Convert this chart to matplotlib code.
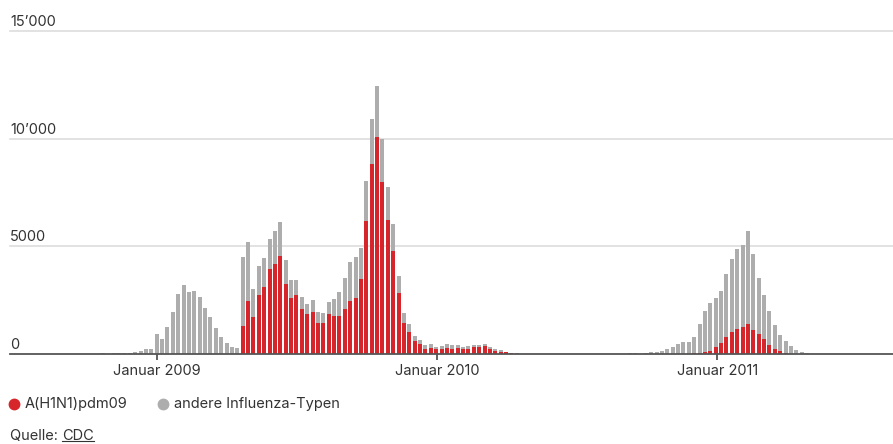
import matplotlib
matplotlib.use("Agg")
import matplotlib.pyplot as plt
from matplotlib.lines import Line2D
import pandas as pd
import numpy as np

plt.rcParams['font.family'] = ['Inter', 'DejaVu Sans']

# ---- data (weekly counts, first week centred on 2008-10-23) ----
first_week = "2008-10-23"
h1n1 = [
    0, 0, 0, 0, 0, 0, 0, 0, 0, 0,
    0, 0, 0, 0, 0, 0, 0, 0, 0, 0, 0, 0, 0, 0, 0, 0,
    1318, 2449, 1736, 2744, 3131, 3953, 4170, 4573, 3255, 2604,
    2728, 2108, 1876, 1969, 1442, 1442, 1876, 1752, 1783, 2108,
    2449, 2604, 3465, 6185, 8835, 10075, 7967, 6200, 4790, 2821,
    1434, 1031, 589, 472, 240, 295, 233, 233, 295, 248,
    295, 217, 248, 326, 326, 357, 217, 155, 109, 78,
    47, 0,
    0, 0, 0, 0, 0, 0, 0, 0, 0, 0, 0, 0, 0, 0, 0, 0, 0, 0, 0, 0,
    0, 0, 0, 0, 0, 0, 0, 0, 0, 0, 0, 0,
    31, 47, 93, 155, 310, 527, 806, 1023, 1178, 1256,
    1411, 1116, 930, 698, 434, 233, 124, 47,
    0, 0, 0, 0,
]
andere = [
    31, 0, 31, 31, 31, 31, 93, 155, 248, 248,
    930, 713, 1240, 1938, 2790, 3193, 2883, 2914, 2635, 2124, 1736, 1194, 775, 496, 310, 279,
    3177, 2744, 1271, 1364, 1349, 1379, 1534, 1534, 1101, 837,
    698, 543, 449, 542, 527, 465, 527, 790, 1100, 1426,
    1829, 1907, 1449, 1844, 2077, 2356, 2031, 1535, 1240, 791,
    457, 349, 248, 179, 179, 155, 93, 139, 155, 171,
    124, 124, 140, 108, 108, 123, 124, 93, 77, 31,
    15, 47,
    0, 0, 0, 0, 0, 0, 0, 0, 0, 0, 0, 0, 0, 0, 0, 0, 0, 0, 0, 0,
    31, 31, 0, 31, 93, 93, 124, 217, 326, 465, 558, 558,
    775, 1348, 1922, 2201, 2294, 2418, 2899, 3395, 3705, 3797,
    4293, 3534, 2604, 2061, 1550, 1116, 744, 542,
    372, 186, 93, 47,
]
y_ticks = [0, 5000, 10000, 15000]
y_labels = ["0", "5000", "10\u2019000", "15\u2019000"]
x_ticks = ["2009-01-01", "2010-01-01", "2011-01-01"]
x_labels = ["Januar 2009", "Januar 2010", "Januar 2011"]
series_names = ["A(H1N1)pdm09", "andere Influenza-Typen"]

RED = "#d7262b"
GRAY = "#adadad"
TEXT = "#333333"

weeks = pd.date_range(first_week, periods=len(h1n1), freq="7D")
h1n1 = np.array(h1n1, dtype=float)
andere = np.array(andere, dtype=float)

W, H = 893, 444
fig = plt.figure(figsize=(W / 100, H / 100), dpi=100)
ax = fig.add_axes([10 / W, 90 / H, 883 / W, 323 / H])

bw = 5.2
ax.bar(weeks, h1n1, width=bw, color=RED, linewidth=0, zorder=3)
ax.bar(weeks, andere, bottom=h1n1, width=bw, color=GRAY, linewidth=0, zorder=3)

ax.set_ylim(0, 15000)
ax.set_xlim(pd.Timestamp("2008-06-24"), pd.Timestamp("2011-08-18"))

for v, lab in zip(y_ticks, y_labels):
    if v > 0:
        ax.axhline(v, color="#dddddd", lw=1.2, zorder=1, clip_on=False)
    ax.annotate(lab, xy=(0, v), xycoords=("axes fraction", "data"),
                xytext=(0, 2), textcoords="offset pixels",
                ha="left", va="bottom", fontsize=10.5, color=TEXT)
ax.axhline(0, color="#555555", lw=1.3, zorder=4, clip_on=False)

for s in ax.spines.values():
    s.set_visible(False)
ax.set_yticks([])
ax.set_xticks([pd.Timestamp(t) for t in x_ticks])
ax.set_xticklabels(x_labels, fontsize=10.5, color=TEXT)
ax.tick_params(axis="x", length=4, width=1.3, color="#555555", pad=3)
ax.patch.set_alpha(0)

# legend
ly = (H - 404) / H
fig.add_artist(Line2D([14 / W], [ly], marker="o", markersize=7.5, color=RED, linestyle="none"))
fig.text(25 / W, ly, series_names[0], ha="left", va="center", fontsize=10.5, color=TEXT)
fig.add_artist(Line2D([163 / W], [ly], marker="o", markersize=7.5, color=GRAY, linestyle="none"))
fig.text(174 / W, ly, series_names[1], ha="left", va="center", fontsize=10.5, color=TEXT)

qy = (H - 436) / H
t1 = fig.text(10 / W, qy, "Quelle: ", ha="left", va="center", fontsize=10.5, color=TEXT)
r = fig.canvas.get_renderer()
bb = t1.get_window_extent(r)
t2 = fig.text(bb.x1 / W, qy, "CDC", ha="left", va="center", fontsize=10.5, color=TEXT)
bb2 = t2.get_window_extent(r)
uy = (bb2.y0 + 2) / H
fig.add_artist(Line2D([bb2.x0 / W, bb2.x1 / W], [uy, uy], color=TEXT, lw=0.8))

fig.savefig("out.png", dpi=100)
